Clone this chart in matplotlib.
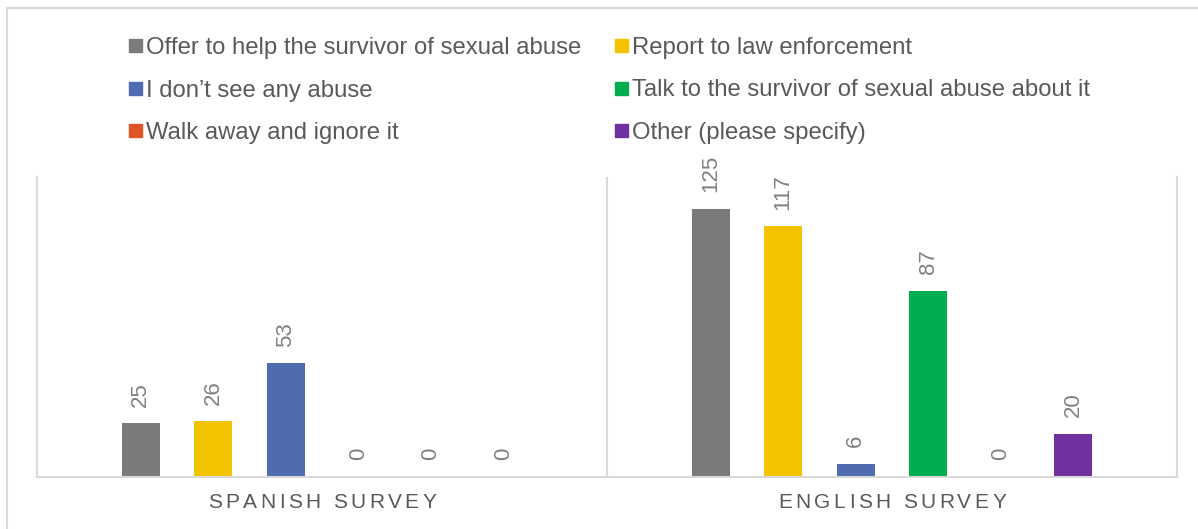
import numpy as np
import matplotlib.pyplot as plt
from matplotlib.patches import Rectangle
from matplotlib.lines import Line2D

plt.rcParams['font.family'] = ['Liberation Sans', 'DejaVu Sans']

# Survey responses: what people would do if they saw sexual abuse
categories = ['SPANISH SURVEY', 'ENGLISH SURVEY']
series_names = [
    'Offer to help the survivor of sexual abuse',
    'Report to law enforcement',
    'I don\u2019t see any abuse',
    'Talk to the survivor of sexual abuse about it',
    'Walk away and ignore it',
    'Other (please specify)',
]
offer_help = [25, 125]
report_law = [26, 117]
no_abuse = [53, 6]
talk_survivor = [0, 87]
walk_away = [0, 0]
other = [0, 20]
series_values = [offer_help, report_law, no_abuse, talk_survivor, walk_away, other]
colors = ['#7a7a7a', '#f3c300', '#4f6cb0', '#00ae4f', '#e05526', '#7030a0']

W, H = 1198, 529
fig = plt.figure(figsize=(W / 100, H / 100), dpi=100)


def fx(px):
    return px / W


def fy(py):
    return 1 - py / H


# chart frame (runs off the right and bottom edges)
line_c = '#d9d9d9'
fig.add_artist(Line2D([fx(7), 1], [fy(8), fy(8)], color=line_c, lw=1.5))
fig.add_artist(Line2D([fx(7), fx(7)], [fy(8), 0], color=line_c, lw=1.5))

ax = fig.add_axes([fx(37), fy(477), fx(1177 - 37), (477 - 177) / H])
ax.set_xlim(-0.5, 1.5)
ax.set_ylim(0, 140)

slot = 72.5 / 570
bar_w = 38 / 570
x = np.arange(len(categories))
for i, (vals, col) in enumerate(zip(series_values, colors)):
    xs = x + (i - 2.5) * slot
    ax.bar(xs, vals, width=bar_w, color=col, zorder=2)
    for xi, v in zip(xs, vals):
        ax.annotate(str(v), (xi, v), xytext=(0, 12), textcoords='offset points',
                    rotation=90, ha='center', va='bottom', fontsize=16,
                    color='#808080')

for side in ['left', 'right', 'bottom']:
    ax.spines[side].set_color(line_c)
    ax.spines[side].set_linewidth(1.5)
ax.spines['top'].set_visible(False)
ax.axvline(0.5, color=line_c, lw=1.5)
ax.set_xticks([])
ax.set_yticks([])

renderer = fig.canvas.get_renderer()


def spaced_text(cx, cy, s, gap, **kw):
    widths = []
    for ch in s:
        t = fig.text(0, 0, ch if ch != ' ' else 'I', **kw)
        widths.append(t.get_window_extent(renderer).width)
        t.remove()
    total = sum(widths) + gap * (len(s) - 1)
    pos = cx - total / 2
    for ch, w in zip(s, widths):
        if ch != ' ':
            fig.text(fx(pos), fy(cy), ch, ha='left', va='center', **kw)
        pos += w + gap


for i, cat in enumerate(categories):
    cx = ax.transData.transform((x[i], 0))[0]
    spaced_text(cx, 503, cat, 3.4, fontsize=15, color='#595959')

# legend laid out row by row in two columns
leg_rows = [45.5, 88, 130.5]
leg_cols = [128.5, 615]
for i, (name, col) in enumerate(zip(series_names, colors)):
    r, c = divmod(i, 2)
    mx, my = leg_cols[c], leg_rows[r]
    fig.add_artist(Rectangle((fx(mx), fy(my + 6.5)), fx(13), 13 / H,
                             transform=fig.transFigure, color=col))
    fig.text(fx(mx + 17.5), fy(my), name, ha='left', va='center_baseline',
             fontsize=17.2, color='#595959')

fig.savefig('out.png', dpi=100)
